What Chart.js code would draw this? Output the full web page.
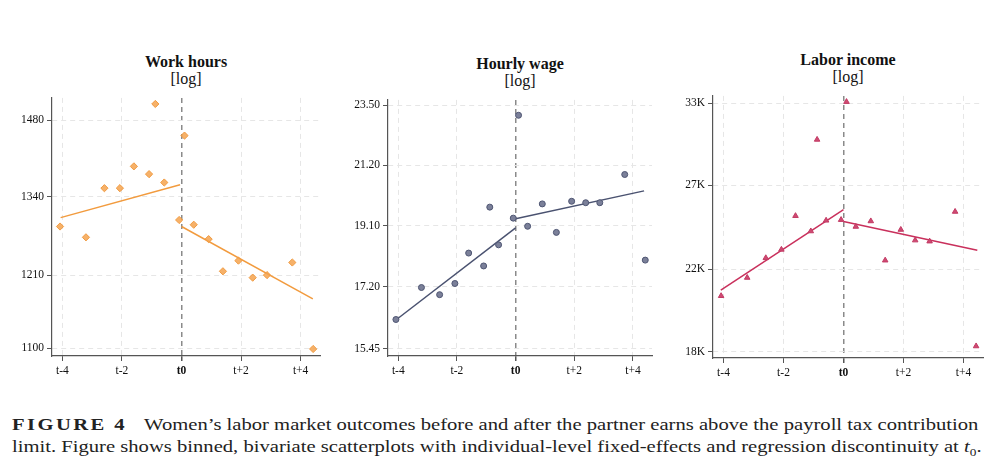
<!DOCTYPE html>
<html>
<head>
<meta charset="utf-8">
<script src="https://cdn.jsdelivr.net/npm/chart.js@4.4.0/dist/chart.umd.min.js"></script>
<style>
  body { margin: 0; width: 1000px; height: 474px; background: #fff; position: relative; overflow: hidden; font-family: "Liberation Serif", serif; }
  .panel { position: absolute; }
  .ttl { position: absolute; text-align: center; font-size: 16px; line-height: 17px; color: #111; }
  .ttl b { font-weight: bold; }
  .caption { position: absolute; left: 12px; top: 414px; width: 800px; font-size: 17px; line-height: 22px; color: #222;
             transform: scaleX(1.213); transform-origin: 0 0; white-space: nowrap; }
  .caption b { letter-spacing: 2.0px; margin-right: 14px; }
</style>
</head>
<body>

<div class="ttl" style="left:86px; top:53px; width:200px;"><b>Work hours</b><br>[log]</div>
<div class="ttl" style="left:420px; top:55px; width:200px;"><b>Hourly wage</b><br>[log]</div>
<div class="ttl" style="left:748px; top:51px; width:200px;"><b>Labor income</b><br>[log]</div>

<div class="panel" style="left:0px; top:88px;"><canvas id="c1" width="330" height="300"></canvas></div>
<div class="panel" style="left:336px; top:90px;"><canvas id="c2" width="326" height="298"></canvas></div>
<div class="panel" style="left:661px; top:86px;"><canvas id="c3" width="332" height="304"></canvas></div>

<div class="caption"><b>FIGURE 4</b>Women’s labor market outcomes before and after the partner earns above the payroll tax contribution<br>limit. Figure shows binned, bivariate scatterplots with individual-level fixed-effects and regression discontinuity at <i>t</i><sub style="font-size:11px">0</sub>.</div>

<script>
// x 위치 (이벤트 시간, 구간 평균)
const xTicks = [-4, -2, 0, 2, 4];
const xLabels = ['t-4', 't-2', 't0', 't+2', 't+4'];
const binX = [-4.08, -3.21, -2.59, -2.07, -1.60, -1.09, -0.88, -0.58, -0.08, 0.10, 0.41, 0.91, 1.39, 1.91, 2.39, 2.87, 3.72, 4.42];

// Work hours
const hoursVals = [1289, 1271, 1355, 1355, 1394, 1380, 1512, 1365, 1300, 1451, 1292, 1268, 1216, 1233, 1206, 1210, 1230, 1099];
const hoursFitPre = [[-4.06, 1304], [-0.05, 1361]];
const hoursFitPost = [[0.0, 1289], [4.41, 1173]];
const hoursTicks = [1100, 1210, 1340, 1480];

// Hourly wage
const wageVals = [16.25, 17.17, 16.96, 17.29, 18.22, 17.82, 19.72, 18.48, 19.35, 23.10, 19.08, 19.83, 18.88, 19.92, 19.87, 19.87, 20.86, 18.00];
const wageFitPre = [[-4.06, 16.25], [0.0, 19.03]];
const wageFitPost = [[0.0, 19.33], [4.38, 20.28]];
const wageTicks = [15.45, 17.20, 19.10, 21.20, 23.50];

// Labor income
const incomeVals = [20620, 21560, 22620, 23090, 25070, 24150, 30200, 24790, 24830, 33120, 24420, 24750, 22490, 24240, 23620, 23560, 25330, 18240];
const incomeFitPre = [[-4.09, 20910], [0.0, 25450]];
const incomeFitPost = [[0.0, 24730], [4.46, 23050]];
const incomeTicks = [18000, 22000, 27000, 33000];

const serif = 'Liberation Serif';

function pts(xs, ys) {
    return xs.map((x, i) => ({ x: x, y: ys[i] }));
}
function pairs(arr) {
    return arr.map(p => ({ x: p[0], y: p[1] }));
}

function makePanel(id, opt) {
    const ctx = document.getElementById(id).getContext('2d');
    return new Chart(ctx, {
        type: 'scatter',
        data: {
            datasets: [
                {
                    data: pts(binX, opt.vals),
                    pointStyle: opt.shape,
                    pointRadius: opt.radius,
                    backgroundColor: opt.fill,
                    borderColor: opt.border,
                    borderWidth: 1
                },
                {
                    type: 'line',
                    data: pairs(opt.pre),
                    borderColor: opt.line,
                    borderWidth: 1.5,
                    pointRadius: 0,
                    fill: false
                },
                {
                    type: 'line',
                    data: pairs(opt.post),
                    borderColor: opt.line,
                    borderWidth: 1.5,
                    pointRadius: 0,
                    fill: false
                }
            ]
        },
        options: {
            responsive: false,
            animation: false,
            layout: { padding: { top: 2, right: opt.padRight, left: 0, bottom: 0 } },
            plugins: {
                legend: { display: false },
                tooltip: { enabled: false }
            },
            scales: {
                x: {
                    type: 'linear',
                    min: -4.35,
                    max: 4.65,
                    afterBuildTicks: s => { s.ticks = xTicks.map(v => ({ value: v })); },
                    afterFit: s => { s.height = 32; },
                    grid: {
                        color: c => c.tick && c.tick.value === 0 ? '#8a8a8a' : '#e6e6e6',
                        lineWidth: c => c.tick && c.tick.value === 0 ? 1.5 : 1,
                        tickColor: '#555',
                        tickLength: 5,
                        tickBorderDash: [],
                        drawTicks: true
                    },
                    border: { display: true, color: '#555', width: 1.2, dash: [5, 4] },
                    ticks: {
                        color: '#111',
                        padding: 3,
                        maxRotation: 0,
                        font: c => ({ family: serif, size: 11.5, weight: c.tick && c.tick.value === 0 ? 'bold' : 'normal' }),
                        callback: v => xLabels[xTicks.indexOf(v)]
                    }
                },
                y: {
                    type: 'logarithmic',
                    min: opt.ymin,
                    max: opt.ymax,
                    afterBuildTicks: s => { s.ticks = opt.ticks.map(v => ({ value: v })); },
                    afterFit: s => { s.width = opt.axisLeft; },
                    grid: {
                        color: '#e6e6e6',
                        tickColor: '#555',
                        tickLength: 5,
                        tickBorderDash: []
                    },
                    border: { display: true, color: '#555', width: 1.2, dash: [5, 4] },
                    ticks: {
                        color: '#111',
                        padding: 3,
                        font: { family: serif, size: 11.5 },
                        callback: opt.fmt
                    }
                }
            }
        }
    });
}

makePanel('c1', {
    vals: hoursVals, pre: hoursFitPre, post: hoursFitPost, ticks: hoursTicks,
    ymin: 1089, ymax: 1524, axisLeft: 52, padRight: 10,
    shape: 'rectRot', radius: 3.6,
    fill: 'rgba(245,163,79,0.85)', border: '#f09a40', line: '#f29b3e',
    fmt: v => String(v)
});

makePanel('c2', {
    vals: wageVals, pre: wageFitPre, post: wageFitPost, ticks: wageTicks,
    ymin: 15.26, ymax: 23.72, axisLeft: 52, padRight: 10,
    shape: 'circle', radius: 3,
    fill: '#7b8099', border: '#4e5572', line: '#4a5270',
    fmt: v => Number(v).toFixed(2)
});

makePanel('c3', {
    vals: incomeVals, pre: incomeFitPre, post: incomeFitPost, ticks: incomeTicks,
    ymin: 17720, ymax: 33600, axisLeft: 52, padRight: 10,
    shape: 'triangle', radius: 3.2,
    fill: '#cf4a72', border: '#c23a64', line: '#c9305c',
    fmt: v => Math.round(v / 1000) + 'K'
});
</script>
</body>
</html>
